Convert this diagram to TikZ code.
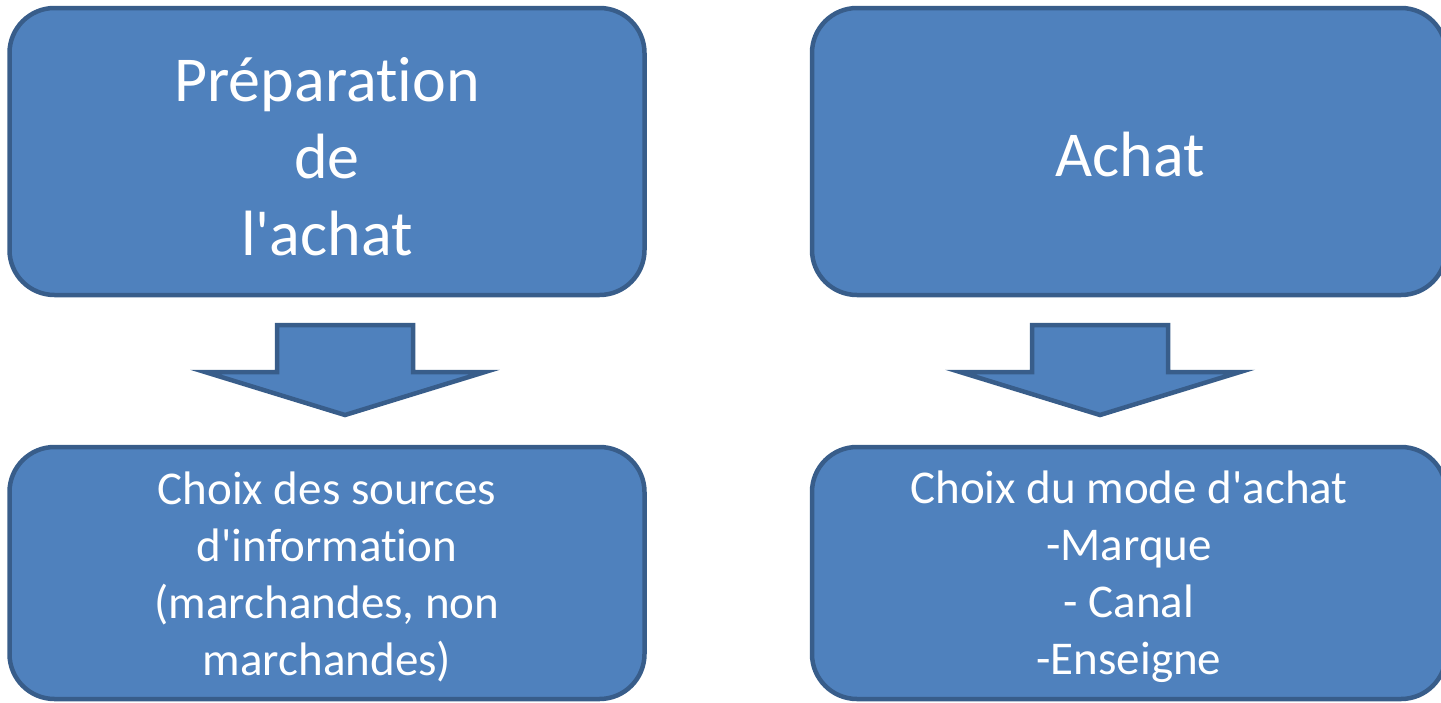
\documentclass[tikz,border=0pt]{standalone}
\usepackage{fontspec}
\setmainfont{Carlito}[Ligatures={TeXOff,CommonOff}]
\definecolor{boxfill}{HTML}{4F81BD}
\definecolor{boxline}{HTML}{385D8A}
\tikzset{
  blk/.style={draw=boxline, fill=boxfill, line width=4.5pt, rounded corners=45pt},
  bigtxt/.style={text=white, align=center, font=\fontsize{64}{77}\selectfont, inner sep=0pt},
  smalltxt/.style={text=white, align=center, font=\fontsize{47}{57}\selectfont, inner sep=0pt},
  downarrow/.style={draw=boxline, fill=boxfill, line width=4.5pt, line join=miter}
}
\begin{document}
\begin{tikzpicture}[x=1pt,y=-1pt]
\useasboundingbox (0,0) rectangle (1441,702);
\begin{scope}
\clip (0,0) rectangle (1441,702);
% boxes
\draw[blk] (9.5,8) rectangle (644.5,295);
\draw[blk] (812,8) rectangle (1446,295);
\draw[blk] (9.5,447) rectangle (644.5,699);
\draw[blk] (812,447) rectangle (1446,699);
% arrows
\draw[downarrow] (277,325) -- (413,325) -- (413,372) -- (485,372) -- (345,415) -- (205,372) -- (277,372) -- cycle;
\draw[downarrow] (1032,325) -- (1168,325) -- (1168,372) -- (1240,372) -- (1100,415) -- (960,372) -- (1032,372) -- cycle;
\end{scope}
% texts
\node[bigtxt] (prep) at (327,157) {Préparation\\de\\l'achat};
\node[bigtxt] (achat) at (1130,155) {Achat};
\node[smalltxt] (sources) at (327,577) {Choix des sources\\d'information\\(marchandes, non\\marchandes)};
\node[smalltxt] (mode) at (1129,577) {Choix du mode d'achat\\-Marque\\- Canal\\-Enseigne};
\end{tikzpicture}
\end{document}
